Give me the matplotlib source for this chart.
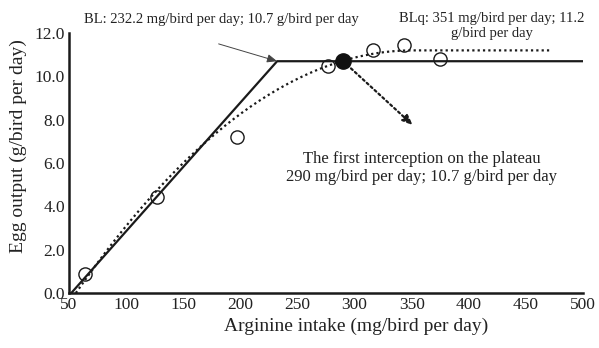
import numpy as np
import matplotlib
matplotlib.use("Agg")
import matplotlib.pyplot as plt

plt.rcParams['font.family'] = ['Liberation Serif', 'DejaVu Serif']

# Observed data
arg_intake = [64, 127, 197, 277, 316, 343, 375]
egg_output = [0.88, 4.45, 7.2, 10.5, 11.2, 11.45, 10.78]

# Broken-line (BL) model
bl_start = 52.0
bl_break = 232.2
bl_plateau = 10.7
bl_end = 500.0

# Quadratic broken-line (BLq) model
blq_root = 56.0
blq_break = 351.0
blq_plateau = 11.2
blq_end = 473.0

# First interception on plateau
inter_x = 290.0
inter_y = 10.7
arrow_tip = (351.0, 7.75)

xticks = [50, 100, 150, 200, 250, 300, 350, 400, 450, 500]
yticks = [0, 2, 4, 6, 8, 10, 12]

fig = plt.figure(figsize=(5.99, 3.48), dpi=100)
ax = fig.add_axes([0.1152, 0.158, 0.8581, 0.747])

# BL solid line
ax.plot([bl_start, bl_break, bl_end], [0, bl_plateau, bl_plateau],
        color='#1a1a1a', lw=1.6, zorder=2)

# BLq dotted curve
a = blq_plateau / (blq_break - blq_root) ** 2
xq = np.linspace(blq_root, blq_break, 200)
yq = blq_plateau - a * (blq_break - xq) ** 2
ax.plot(np.r_[xq, blq_end], np.r_[yq, blq_plateau], color='#1a1a1a',
        lw=1.6, ls=(0, (1, 1.4)), zorder=2)

# Data circles
ax.plot(arg_intake, egg_output, 'o', ms=9.5, mfc='none', mec='#1a1a1a',
        mew=1.0, zorder=3, clip_on=False)
ax.plot([inter_x], [inter_y], 'o', ms=11, color='#111111', zorder=4)

# Dotted arrow from interception point
ax.annotate('', xy=arrow_tip, xytext=(inter_x, inter_y),
            arrowprops=dict(arrowstyle='-|>,head_length=0.6,head_width=0.25',
                            color='#1a1a1a', lw=1.6, ls=(0, (1, 1.4)),
                            shrinkA=0, shrinkB=0))

# Thin arrow to BL breakpoint
ax.annotate('', xy=(bl_break, bl_plateau), xytext=(181, 11.5),
            arrowprops=dict(arrowstyle='-|>,head_length=0.6,head_width=0.25',
                            color='#444444', lw=0.7, shrinkA=0, shrinkB=0))

ax.set_xlim(50, 500)
ax.set_ylim(0, 12)
ax.set_xticks(xticks)
ax.set_yticks(yticks)
ax.set_yticklabels([f'{v:.1f}' for v in yticks])
ax.tick_params(length=0, labelsize=12.5, colors='#222222', pad=3)
for s in ['top', 'right']:
    ax.spines[s].set_visible(False)
for s in ['left', 'bottom']:
    ax.spines[s].set_linewidth(1.8)
    ax.spines[s].set_color('#1a1a1a')

fig.text(356 / 599, 1 - 326 / 348, 'Arginine intake (mg/bird per day)',
         ha='center', va='center', fontsize=14, color='#222222')
fig.text(18 / 599, 1 - 146 / 348, 'Egg output (g/bird per day)',
         ha='center', va='center', rotation=90, fontsize=14, color='#222222')

fig.text(221 / 599, 1 - 19 / 348, 'BL: 232.2 mg/bird per day; 10.7 g/bird per day',
         ha='center', va='center', fontsize=10.5, color='#222222')
fig.text(492 / 599, 1 - 26 / 348, 'BLq: 351 mg/bird per day; 11.2\ng/bird per day',
         ha='center', va='center', fontsize=10.5, color='#222222',
         linespacing=1.2)
fig.text(422 / 599, 1 - 168 / 348,
         'The first interception on the plateau\n290 mg/bird per day; 10.7 g/bird per day',
         ha='center', va='center', fontsize=12, color='#222222', linespacing=1.15)

fig.savefig('out.png', dpi=100)
